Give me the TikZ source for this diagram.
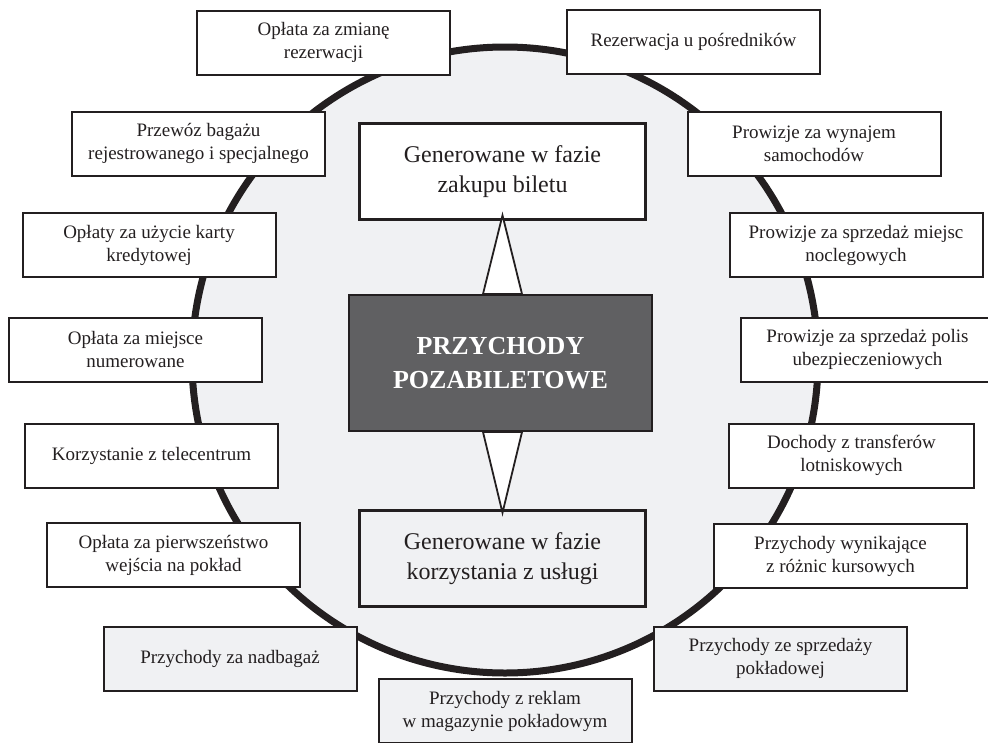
\documentclass[tikz,border=0pt]{standalone}
\usepackage{fontspec}
\setmainfont{Liberation Serif}
\usetikzlibrary{calc}
\definecolor{ringfill}{RGB}{240,241,243}
\definecolor{corefill}{RGB}{96,96,98}
\definecolor{ink}{RGB}{35,31,32}

\begin{document}
\begin{tikzpicture}[x=1pt,y=-1pt,
  item/.style={draw=ink,line width=2pt,fill=white,minimum width=253pt,minimum height=64pt,inner sep=0pt,align=center,text=ink,font=\fontsize{19}{23}\selectfont},
  itemg/.style={item,fill=ringfill},
  phase/.style={draw=ink,line width=3.5pt,fill=white,minimum width=286pt,minimum height=96pt,inner sep=0pt,align=center,text=ink,font=\fontsize{24}{30}\selectfont},
  core/.style={draw=ink,line width=2pt,fill=corefill,minimum width=303pt,minimum height=136pt,inner sep=0pt,align=center,text=white,font=\fontsize{26}{34}\selectfont\bfseries},
  wedge/.style={draw=ink,line width=1.8pt,fill=white,line join=miter},
  ring/.style={draw=ink,line width=7pt,fill=ringfill}]
\useasboundingbox (0,0) rectangle (988,742);
% the ring behind everything
\draw[ring] (505,360) circle[radius=313pt];
% centre and the two phases
\node[core] (core) at (500.5,363) {PRZYCHODY\\POZABILETOWE};
\node[phase] (buy) at (502.5,171.5) {Generowane w fazie\\zakupu biletu};
\node[phase,fill=ringfill] (use) at (502.5,558.5) {Generowane w fazie\\korzystania z usługi};
\draw[wedge] ($(buy.south |- core.north)+(-19.5,0)$) -- ($(buy.south)+(0,-6)$) -- ($(buy.south |- core.north)+(19.5,0)$) -- cycle;
\draw[wedge] ($(use.north |- core.south)+(-19.5,0)$) -- ($(use.north)+(0,4)$) -- ($(use.north |- core.south)+(19.5,0)$) -- cycle;
% left side
\node[item] (zmiana) at (323.5,42.5) {Opłata za zmianę\\rezerwacji};
\node[item] (bagaz) at (198.5,143.5) {Przewóz bagażu\\rejestrowanego i specjalnego};
\node[item] (karta) at (149,245) {Opłaty za użycie karty\\kredytowej};
\node[item] (miejsce) at (135.5,349.5) {Opłata za miejsce\\numerowane};
\node[item] (tele) at (151.5,455.5) {Korzystanie z telecentrum};
\node[item] (pierwsz) at (173.5,555) {Opłata za pierwszeństwo\\wejścia na pokład};
\node[itemg] (nadbag) at (230,658.5) {Przychody za nadbagaż};
% right side
\node[item] (posred) at (693.5,42) {Rezerwacja u pośredników};
\node[item] (auta) at (814,143.5) {Prowizje za wynajem\\samochodów};
\node[item] (nocleg) at (856,245) {Prowizje za sprzedaż miejsc\\noclegowych};
\node[item] (polisy) at (867.5,349.5) {Prowizje za sprzedaż polis\\ubezpieczeniowych};
\node[item,minimum width=245pt] (transfer) at (851.5,455.5) {Dochody z transferów\\lotniskowych};
\node[item] (kursy) at (840.5,556) {Przychody wynikające\\ z różnic kursowych};
\node[itemg] (sprzedaz) at (780.5,658.5) {Przychody ze sprzedaży\\pokładowej};
% bottom
\node[itemg] (reklamy) at (505,711) {Przychody z reklam\\w magazynie pokładowym};
\end{tikzpicture}
\end{document}
